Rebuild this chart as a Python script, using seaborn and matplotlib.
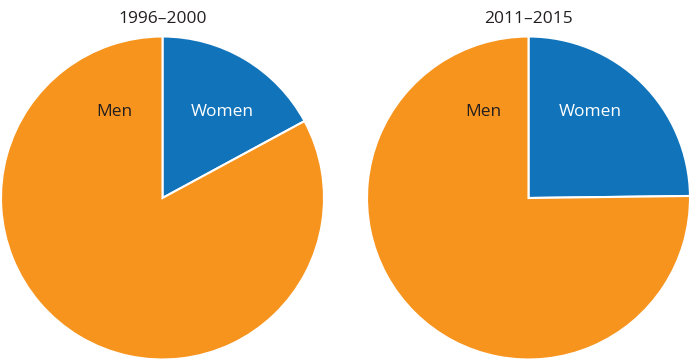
import numpy as np
import matplotlib
matplotlib.use("Agg")
import matplotlib.pyplot as plt
import seaborn as sns

periods = ["1996–2000", "2011–2015"]
categories = ["Women", "Men"]
women_share = [17.1, 24.8]
men_share = [82.9, 75.2]
colors = ["#1174BB", "#F7941E"]
label_colors = ["white", "#231F20"]

sns.set_theme(style="white")
plt.rcParams['font.family'] = ['Open Sans', 'DejaVu Sans']

fig = plt.figure(figsize=(6.9, 3.62), dpi=100)

# pie axes placed so each pie spans ~323 px
centers = [162.5, 528.5]
r_px = 161.5
for i, period in enumerate(periods):
    cx = centers[i]
    ax = fig.add_axes([(cx - r_px) / 690, (362 - 198 - r_px) / 362, 2 * r_px / 690, 2 * r_px / 362])
    ax.pie([women_share[i], men_share[i]], colors=colors, startangle=90, counterclock=False,
           radius=1, wedgeprops=dict(edgecolor="white", linewidth=1.5))
    ax.set_xlim(-1, 1)
    ax.set_ylim(-1, 1)
    ax.set_aspect("auto")
    ax.axis("off")
    ax.text(0, 1.11, period, ha="center", va="center", fontsize=12.5, color="#231F20")
    # category labels inside wedges
    men_x = -0.30 if i == 0 else -0.28
    women_x = 0.37 if i == 0 else 0.38
    ax.text(women_x, 0.53, categories[0], ha="center", va="center", fontsize=12.5, color=label_colors[0])
    ax.text(men_x, 0.53, categories[1], ha="center", va="center", fontsize=12.5, color=label_colors[1])

fig.savefig("out.png", dpi=100)
